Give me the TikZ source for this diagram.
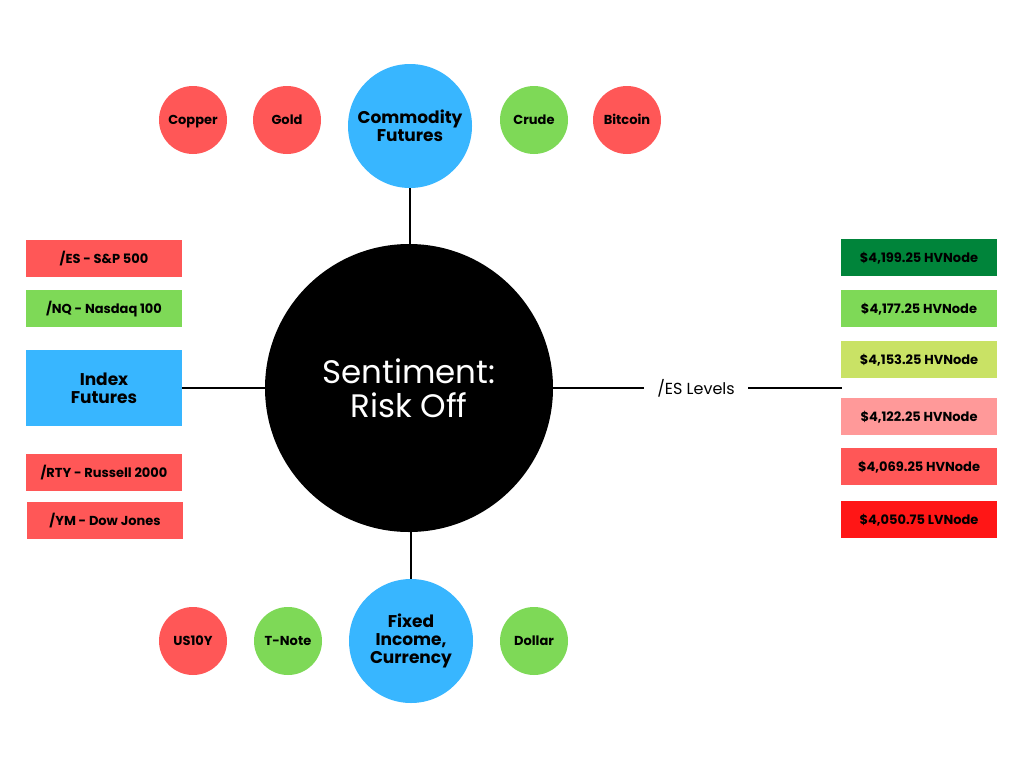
\documentclass[tikz,border=0pt]{standalone}
\usepackage{fontspec}
\setmainfont{Poppins}
\definecolor{cblue}{HTML}{38B6FF}
\definecolor{cred}{HTML}{FF5757}
\definecolor{cgreen}{HTML}{7ED957}
\definecolor{cdgreen}{HTML}{00843A}
\definecolor{clime}{HTML}{C9E265}
\definecolor{cpink}{HTML}{FF9999}
\definecolor{cbright}{HTML}{FF1616}
\tikzset{
  small/.style={circle, minimum size=68pt, inner sep=0pt, text height=9.5pt, text depth=0pt, font=\fontsize{13}{14}\selectfont\bfseries},
  big/.style={circle, fill=cblue, minimum size=124pt, inner sep=0pt, align=center, font=\fontsize{17}{18}\selectfont\bfseries},
  bar/.style={rectangle, minimum width=156pt, minimum height=37pt, inner sep=0pt, text height=9.5pt, text depth=0pt, font=\fontsize{13}{14}\selectfont\bfseries},
  conn/.style={line width=2.6pt, black}
}
\begin{document}
\begin{tikzpicture}[x=1pt,y=-1pt]
\useasboundingbox[fill=white] (0,0) rectangle (1024,768);
% center
\node[circle, fill=black, minimum size=288pt, inner sep=0pt, text=white, align=center, font=\fontsize{32.5}{34}\selectfont] (c) at (409,388) {Sentiment:\\Risk Off};
% top
\node[big] (cf) at (410,126) {Commodity\\Futures};
\node[small, fill=cred] (copper) at (193,120) {Copper};
\node[small, fill=cred] (gold) at (287,120) {Gold};
\node[small, fill=cgreen] (crude) at (534,120) {Crude};
\node[small, fill=cred] (btc) at (627,120) {Bitcoin};
% bottom
\node[big] (fi) at (411,641) {Fixed\\Income,\\Currency};
\node[small, fill=cred] (us10) at (193,641) {US10Y};
\node[small, fill=cgreen] (tn) at (288,641) {T-Note};
\node[small, fill=cgreen] (dol) at (534,641) {Dollar};
% left
\node[rectangle, fill=cblue, minimum width=156pt, minimum height=76pt, inner sep=0pt, align=center, font=\fontsize{17}{18}\selectfont\bfseries] (idx) at (104,388) {Index\\Futures};
\node[bar, fill=cred] (es) at (104,258.5) {/ES - S\&P 500};
\node[bar, fill=cgreen] (nq) at (104,308.5) {/NQ - Nasdaq 100};
\node[bar, fill=cred] (rty) at (104,472.5) {/RTY - Russell 2000};
\node[bar, fill=cred] (ym) at (105,520.5) {/YM - Dow Jones};
% right
\node[font=\fontsize{16}{18}\selectfont, inner sep=0pt, minimum width=104pt, minimum height=20pt] (lev) at (696,388) {/ES Levels};
\node[bar, fill=cdgreen] (r1) at (919,257.5) {\$4,199.25 HVNode};
\node[bar, fill=cgreen] (r2) at (919,308.5) {\$4,177.25 HVNode};
\node[bar, fill=clime] (r3) at (919,359.5) {\$4,153.25 HVNode};
\node[bar, fill=cpink] (r4) at (919,416.5) {\$4,122.25 HVNode};
\node[bar, fill=cred] (r5) at (919,466.5) {\$4,069.25 HVNode};
\node[bar, fill=cbright] (r6) at (919,519.5) {\$4,050.75 LVNode};
\coordinate (rend) at (842,388);
% connectors
\draw[conn] (cf.south) -- (cf.south |- c.north);
\draw[conn] (c.south -| fi.north) -- (fi.north);
\draw[conn] (idx.east) -- (c.west);
\draw[conn] (c.east) -- (lev.west);
\draw[conn] (lev.east) -- (rend);
\end{tikzpicture}
\end{document}
